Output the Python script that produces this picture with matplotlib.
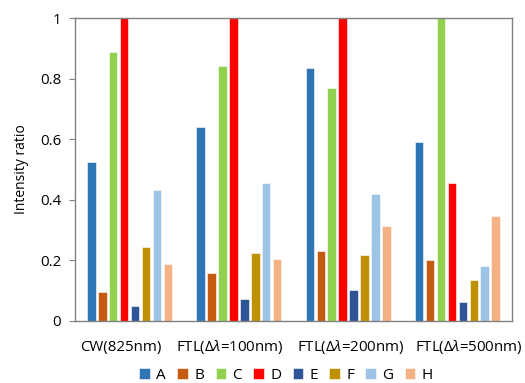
import numpy as np
import matplotlib
matplotlib.use("Agg")
import matplotlib.pyplot as plt

plt.rcParams['font.family'] = ['Open Sans', 'DejaVu Sans']
plt.rcParams['mathtext.fontset'] = 'custom'
plt.rcParams['mathtext.rm'] = 'Open Sans'
plt.rcParams['mathtext.it'] = 'Open Sans:italic'

# source conditions and emission lines
groups = ['CW(825nm)', r'FTL(Δ$\lambda$=100nm)', r'FTL(Δ$\lambda$=200nm)', r'FTL(Δ$\lambda$=500nm)']
series = ['A', 'B', 'C', 'D', 'E', 'F', 'G', 'H']

vals_A = [0.525, 0.640, 0.835, 0.592]
vals_B = [0.095, 0.160, 0.230, 0.200]
vals_C = [0.888, 0.840, 0.770, 1.000]
vals_D = [1.000, 1.000, 1.000, 0.455]
vals_E = [0.050, 0.072, 0.102, 0.062]
vals_F = [0.245, 0.225, 0.218, 0.135]
vals_G = [0.432, 0.455, 0.418, 0.180]
vals_H = [0.187, 0.203, 0.315, 0.348]

colors = ['#2E75B6', '#C55A11', '#92D050', '#FF0000',
          '#2F5597', '#BF9000', '#9DC3E6', '#F4B183']

data = [vals_A, vals_B, vals_C, vals_D, vals_E, vals_F, vals_G, vals_H]

fig = plt.figure(figsize=(5.25, 3.83), dpi=100)
ax = fig.add_axes([75 / 525, 1 - 321 / 383, 437 / 525, 303 / 383])

x = np.arange(len(groups))
slot = 0.1
bw = 0.078
for i, (name, v) in enumerate(zip(series, data)):
    off = (i - 3.5) * slot
    ax.bar(x + off, v, width=bw, color=colors[i], label=name,
           edgecolor='white', linewidth=0.4)

ax.set_xlim(-0.5, 3.5)
ax.set_ylim(0, 1)
ax.set_yticks([0, 0.2, 0.4, 0.6, 0.8, 1.0])
ax.set_yticklabels(['0', '0.2', '0.4', '0.6', '0.8', '1'])
ax.set_xticks([])
# category labels on a common baseline, slightly spread out
label_x = [-0.08, 0.92, 2.02, 3.1]
for lx, g in zip(label_x, groups):
    ax.text(lx, -0.1, g, transform=ax.get_xaxis_transform(),
            ha='center', va='baseline', fontsize=10.8)
ax.tick_params(axis='y', length=4, color='#808080', labelsize=10.8, pad=6)
for s in ax.spines.values():
    s.set_color('#808080')
    s.set_linewidth(1.0)

ax.set_ylabel('Intensity ratio', fontsize=10, labelpad=8)

fig.legend(loc='lower center', bbox_to_anchor=(0.545, -0.035), ncol=8,
           frameon=False, fontsize=11, handlelength=0.7, handleheight=0.7,
           handletextpad=0.4, columnspacing=0.75)

fig.savefig('out.png', dpi=100)
